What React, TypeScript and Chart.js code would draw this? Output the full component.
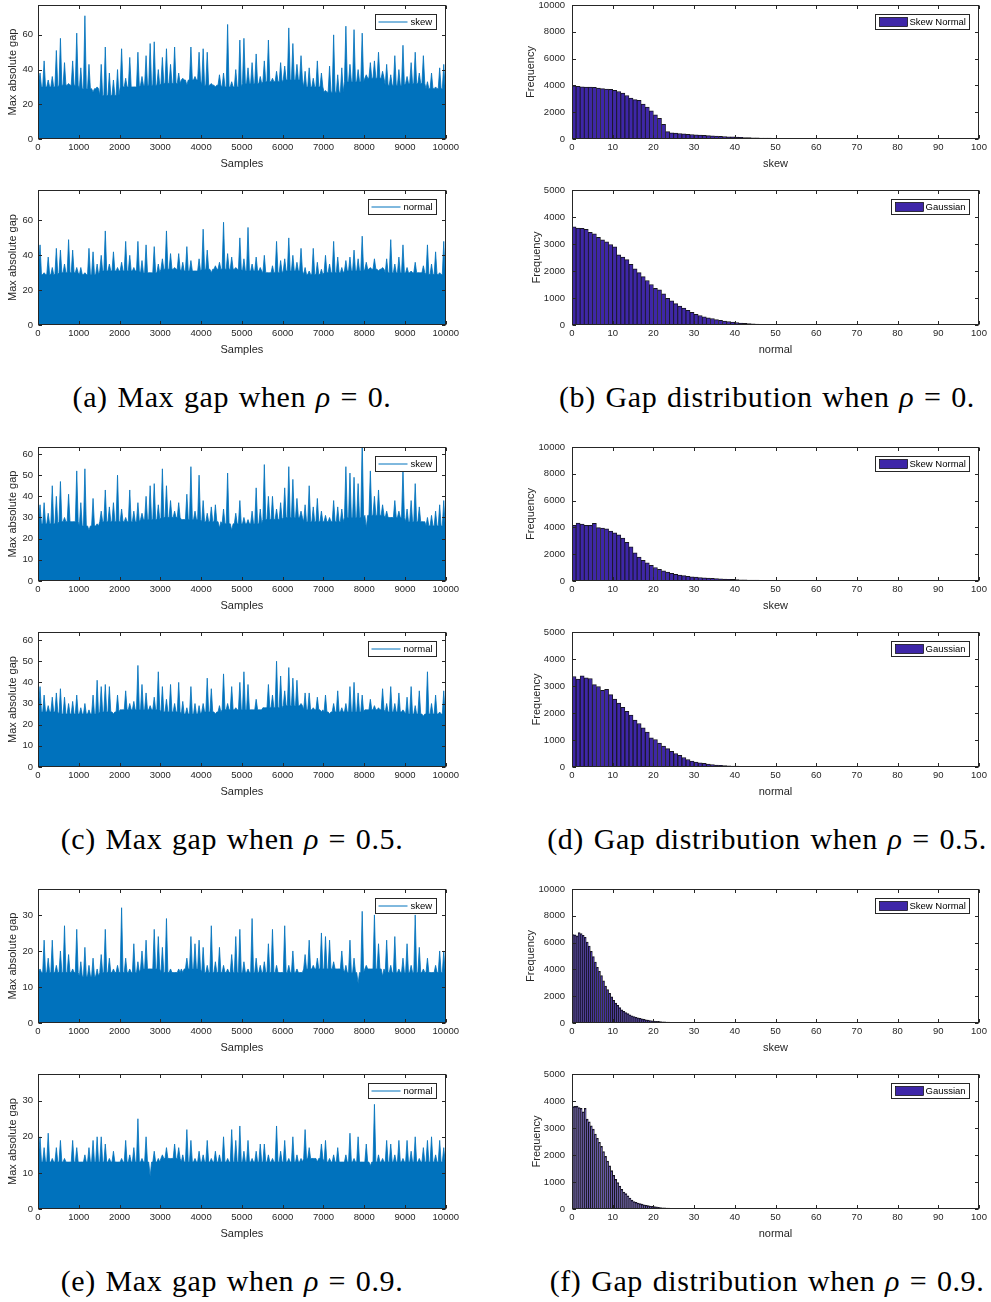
import React, { useEffect, useRef } from "react";
import { Chart, registerables } from "chart.js";

Chart.register(...registerables);

const FONT = '"Liberation Sans", Arial, Helvetica, sans-serif';
const AXIS_COLOR = "#262626";
const LINE_BLUE = "#0072BD";
const PARULA_BLUE = "#3E26A8";
const EDGE_COLOR = "#17161f";

// ---------- tick labels ----------
const SAMPLE_TICKS = [0, 1000, 2000, 3000, 4000, 5000, 6000, 7000, 8000, 9000, 10000];
const HIST_X_TICKS = [0, 10, 20, 30, 40, 50, 60, 70, 80, 90, 100];
const GAP_TICKS_RHO0 = [0, 20, 40, 60];
const GAP_TICKS_RHO05 = [0, 10, 20, 30, 40, 50, 60];
const GAP_TICKS_RHO09 = [0, 10, 20, 30];
const FREQ_TICKS_SKEW = [0, 2000, 4000, 6000, 8000, 10000];
const FREQ_TICKS_NORMAL = [0, 1000, 2000, 3000, 4000, 5000];

// window of samples represented by each max-gap peak value
const SAMPLE_STEP = 100;

// ---------- max absolute gap: peak per 100-sample window ----------
const skewGapRho0 = [
  38, 45, 34, 36, 51, 58, 44, 32, 45, 61,
  41, 71, 43, 27, 30, 43, 53, 38, 34, 40,
  52, 35, 47, 30, 50, 36, 48, 55, 56, 40,
  47, 52, 43, 53, 38, 35, 31, 53, 36, 50,
  52, 50, 32, 30, 37, 38, 66, 33, 40, 57,
  58, 41, 44, 49, 36, 45, 57, 35, 39, 44,
  42, 64, 55, 43, 48, 39, 41, 35, 45, 38,
  28, 42, 60, 37, 41, 65, 43, 63, 40, 61,
  37, 44, 45, 50, 39, 43, 37, 48, 40, 54,
  36, 44, 50, 38, 48, 33, 38, 30, 41, 43,
];
const normalGapRho0 = [
  46, 30, 39, 33, 44, 43, 35, 49, 43, 33,
  33, 30, 44, 42, 35, 40, 54, 35, 42, 33,
  36, 48, 40, 33, 48, 37, 46, 30, 45, 35,
  38, 54, 41, 33, 41, 36, 45, 37, 31, 38,
  55, 43, 30, 34, 36, 59, 41, 39, 33, 50,
  38, 56, 35, 39, 33, 40, 30, 34, 48, 37,
  38, 50, 40, 36, 44, 33, 31, 44, 36, 32,
  40, 35, 48, 39, 33, 37, 39, 43, 38, 51,
  36, 33, 38, 31, 33, 38, 49, 35, 39, 46,
  33, 31, 36, 30, 34, 46, 35, 42, 30, 48,
];
const skewGapRho05 = [
  36, 37, 32, 45, 40, 47, 30, 41, 28, 52,
  37, 53, 24, 39, 27, 33, 43, 35, 37, 50,
  34, 30, 43, 33, 37, 32, 40, 45, 46, 36,
  53, 45, 38, 33, 37, 29, 41, 54, 33, 50,
  38, 32, 35, 36, 25, 34, 51, 24, 32, 38,
  30, 29, 33, 44, 34, 55, 40, 40, 34, 37,
  44, 54, 48, 39, 33, 36, 45, 35, 39, 33,
  31, 30, 38, 35, 34, 54, 51, 49, 46, 66,
  25, 52, 40, 43, 36, 33, 30, 38, 33, 53,
  34, 38, 46, 35, 28, 30, 31, 33, 36, 38,
];
const normalGapRho05 = [
  38, 34, 29, 33, 35, 37, 33, 30, 31, 34,
  28, 30, 27, 34, 41, 38, 39, 38, 25, 34,
  27, 36, 30, 31, 48, 39, 35, 29, 33, 45,
  38, 32, 39, 30, 40, 31, 28, 38, 30, 29,
  30, 42, 37, 25, 29, 44, 30, 38, 28, 40,
  45, 39, 27, 32, 27, 28, 39, 34, 50, 43,
  36, 47, 42, 41, 30, 35, 35, 28, 33, 26,
  34, 25, 30, 36, 28, 30, 38, 40, 35, 34,
  27, 32, 29, 28, 37, 30, 38, 30, 35, 27,
  33, 38, 29, 36, 24, 45, 30, 34, 26, 36,
];
const skewGapRho09 = [
  15, 23, 18, 23, 16, 20, 27, 19, 15, 26,
  17, 21, 16, 18, 15, 19, 26, 18, 15, 16,
  32, 18, 15, 22, 17, 20, 23, 15, 26, 24,
  21, 29, 15, 14, 15, 14, 18, 24, 22, 23,
  21, 16, 27, 17, 21, 16, 15, 19, 24, 26,
  17, 15, 29, 18, 16, 17, 22, 26, 16, 14,
  27, 16, 20, 15, 14, 19, 23, 16, 18, 25,
  24, 23, 17, 15, 20, 16, 23, 18, 11, 31,
  16, 15, 30, 22, 13, 23, 16, 24, 15, 18,
  22, 16, 30, 21, 15, 18, 14, 16, 20, 20,
];
const normalGapRho09 = [
  20, 17, 21, 14, 17, 19, 14, 13, 19, 17,
  13, 15, 17, 19, 20, 20, 18, 14, 16, 13,
  14, 19, 15, 17, 25, 14, 20, 9, 16, 14,
  15, 17, 14, 18, 17, 15, 22, 19, 14, 16,
  15, 19, 14, 16, 15, 20, 14, 22, 19, 23,
  16, 19, 14, 16, 18, 18, 15, 14, 23, 16,
  19, 14, 20, 15, 14, 22, 17, 14, 13, 18,
  19, 14, 15, 17, 13, 15, 21, 14, 20, 13,
  18, 12, 29, 15, 14, 19, 18, 15, 19, 14,
  19, 16, 20, 14, 17, 19, 20, 15, 19, 17,
];

// ---------- dense band level (top of solid region), per 500 samples ----------
const skewBandRho0 = [30, 31, 29, 25, 30, 31, 32, 34, 31, 30, 32, 33, 34, 30, 27, 33, 35, 31, 32, 29];
const normalBandRho0 = [29, 30, 29, 31, 31, 30, 32, 31, 32, 32, 31, 30, 31, 29, 30, 31, 32, 30, 30, 29];
const skewBandRho05 = [27, 28, 26, 28, 28, 29, 30, 29, 28, 27, 27, 29, 30, 28, 28, 30, 31, 30, 28, 26];
const normalBandRho05 = [26, 25, 25, 26, 27, 27, 26, 25, 26, 27, 27, 28, 29, 27, 26, 26, 27, 26, 25, 25];
const skewBandRho09 = [14, 14, 13, 14, 14, 15, 14, 15, 14, 14, 14, 14, 14, 15, 15, 14, 15, 14, 14, 14];
const normalBandRho09 = [13, 13, 13, 13, 13, 13, 14, 13, 13, 13, 13, 13, 13, 14, 13, 13, 13, 13, 13, 13];

// ---------- gap histograms (frequency per bin) ----------
const SKEW_BIN_RHO0 = 1;
const skewHistRho0 = [
  3970, 3940, 3900, 3880, 3870, 3850, 3800, 3760, 3730, 3700,
  3640, 3550, 3420, 3250, 3050, 2940, 2880, 2600, 2380, 2100,
  1800, 1550, 1100, 550, 470, 440, 410, 385, 360, 335,
  310, 290, 270, 250, 230, 215, 200, 185, 170, 155,
  140, 128, 116, 105, 95, 86, 78, 70, 63, 57,
  51, 46, 42, 38, 34, 31, 28, 25, 22, 20,
  18, 16, 14, 13, 12, 11, 10, 9, 8, 7,
  6, 6, 5, 4, 4, 3, 3,
];
const NORMAL_BIN_RHO0 = 1;
const normalHistRho0 = [
  3640, 3590, 3580, 3540, 3430, 3380, 3250, 3160, 3080, 2980,
  2900, 2600, 2520, 2420, 2250, 2080, 1940, 1790, 1650, 1500,
  1360, 1300, 1160, 990, 900, 790, 700, 630, 540, 470,
  400, 350, 300, 265, 240, 200, 170, 150, 130, 110,
  90, 75, 60, 50, 42, 36, 30, 26, 22, 19,
  16, 14, 12, 10, 9, 8, 7, 6, 5, 5,
  4, 4, 3, 3, 2,
];
const SKEW_BIN_RHO05 = 1;
const skewHistRho05 = [
  4150, 4330, 4250, 4160, 4150, 4300, 3980, 3950, 3900, 3720,
  3600, 3450, 3200, 2880, 2550, 2100, 1780, 1540, 1350, 1170,
  1010, 880, 760, 660, 570, 500, 450, 400, 360, 320,
  290, 265, 240, 220, 200, 180, 165, 150, 135, 122,
  110, 98, 88, 79, 71, 64, 57, 51, 46, 41,
  37, 33, 29, 26, 23, 21, 19, 17, 15, 13,
  12, 10, 9, 8, 7, 6, 5, 4, 3,
];
const NORMAL_BIN_RHO05 = 1;
const normalHistRho05 = [
  3350, 3260, 3380, 3300, 3280, 3050, 2980, 2840, 2880, 2680,
  2520, 2370, 2210, 2060, 1920, 1740, 1610, 1450, 1290, 1080,
  1020, 890, 780, 680, 580, 500, 430, 350, 280, 220,
  185, 160, 135, 110, 90, 75, 62, 52, 45, 38,
  32, 27, 23, 19, 16, 13, 11, 9, 7, 6,
  5, 4, 3,
];
const SKEW_BIN_RHO09 = 0.5;
const skewHistRho09 = [
  6600, 6580, 6500, 6750, 6680, 6550, 6400, 6050, 5750, 5350,
  4950, 4550, 4150, 3850, 3550, 3150, 2750, 2500, 2220, 1950,
  1700, 1480, 1320, 1150, 980, 880, 780, 700, 620, 540,
  480, 430, 390, 350, 310, 270, 240, 215, 190, 170,
  150, 135, 120, 105, 95, 85, 75, 67, 60, 53,
  47, 42, 38, 34, 30, 27, 24, 21, 19, 17,
  15, 14, 12, 11, 10, 9, 9, 8, 7, 7,
  6, 6, 5, 5, 5, 4, 4, 4, 3, 3,
  3, 3, 3, 2, 2, 2, 2, 2, 2, 2,
  2, 1, 1, 1, 1, 1,
];
const NORMAL_BIN_RHO09 = 0.5;
const normalHistRho09 = [
  3790, 3800, 3810, 3760, 3730, 3600, 3730, 3330, 3230, 3080,
  2960, 2780, 2620, 2470, 2320, 2130, 1950, 1780, 1600, 1420,
  1250, 1100, 980, 850, 730, 630, 570, 490, 410, 330,
  280, 250, 225, 200, 180, 160, 140, 125, 110, 98,
  88, 78, 65, 55, 48, 42, 36, 31, 27, 23,
  20, 17, 14, 12, 10, 8, 7, 6, 5, 4,
  3, 2,
];

// ---------- layout ----------
type PanelCfg = {
  kind: "ts" | "hist";
  left: number;
  top: number;
  width: number;
  height: number;
  values: number[];
  band?: number[];
  bin?: number;
  edge?: number;
  yMax: number;
  yTicks: number[];
  xTitle: string;
  yTitle: string;
  label: string;
  yTitleCenter: number;
};

const GROUP_OFFSETS = [0, 442, 884];
const ROW_A_TOP = 5;
const ROW_A_H = 134;
const ROW_B_TOP = 190;
const ROW_B_H = 135;
const LEFT_X = 38;
const LEFT_W = 408;
const RIGHT_X = 572;
const RIGHT_W = 407;

const tsPanel = (
  g: number,
  rowB: boolean,
  values: number[],
  band: number[],
  yMax: number,
  yTicks: number[],
  label: string
): PanelCfg => ({
  kind: "ts",
  left: LEFT_X,
  top: (rowB ? ROW_B_TOP : ROW_A_TOP) + GROUP_OFFSETS[g],
  width: LEFT_W,
  height: rowB ? ROW_B_H : ROW_A_H,
  values,
  band,
  yMax,
  yTicks,
  xTitle: "Samples",
  yTitle: "Max absolute gap",
  label,
  yTitleCenter: 13.3,
});

const histPanel = (g: number, rowB: boolean, values: number[], bin: number, edge: number, label: string): PanelCfg => ({
  kind: "hist",
  left: RIGHT_X,
  top: (rowB ? ROW_B_TOP : ROW_A_TOP) + GROUP_OFFSETS[g],
  width: RIGHT_W,
  height: rowB ? ROW_B_H : ROW_A_H,
  values,
  bin,
  edge,
  yMax: rowB ? 5000 : 10000,
  yTicks: rowB ? FREQ_TICKS_NORMAL : FREQ_TICKS_SKEW,
  xTitle: rowB ? "normal" : "skew",
  yTitle: "Frequency",
  label,
  yTitleCenter: rowB ? 25 : 19,
});

const PANELS: PanelCfg[] = [
  tsPanel(0, false, skewGapRho0, skewBandRho0, 77.2, GAP_TICKS_RHO0, "skew"),
  tsPanel(0, true, normalGapRho0, normalBandRho0, 77.5, GAP_TICKS_RHO0, "normal"),
  tsPanel(1, false, skewGapRho05, skewBandRho05, 63.3, GAP_TICKS_RHO05, "skew"),
  tsPanel(1, true, normalGapRho05, normalBandRho05, 63.8, GAP_TICKS_RHO05, "normal"),
  tsPanel(2, false, skewGapRho09, skewBandRho09, 37.2, GAP_TICKS_RHO09, "skew"),
  tsPanel(2, true, normalGapRho09, normalBandRho09, 37.4, GAP_TICKS_RHO09, "normal"),
  histPanel(0, false, skewHistRho0, SKEW_BIN_RHO0, 0.8, "Skew Normal"),
  histPanel(0, true, normalHistRho0, NORMAL_BIN_RHO0, 0.8, "Gaussian"),
  histPanel(1, false, skewHistRho05, SKEW_BIN_RHO05, 0.8, "Skew Normal"),
  histPanel(1, true, normalHistRho05, NORMAL_BIN_RHO05, 0.9, "Gaussian"),
  histPanel(2, false, skewHistRho09, SKEW_BIN_RHO09, 0.9, "Skew Normal"),
  histPanel(2, true, normalHistRho09, NORMAL_BIN_RHO09, 1.3, "Gaussian"),
];

const CAPTIONS = [
  { letter: "(a)", text: "Max gap when", rho: "0", x: 232 },
  { letter: "(b)", text: "Gap distribution when", rho: "0", x: 767 },
  { letter: "(c)", text: "Max gap when", rho: "0.5", x: 232 },
  { letter: "(d)", text: "Gap distribution when", rho: "0.5", x: 767 },
  { letter: "(e)", text: "Max gap when", rho: "0.9", x: 232 },
  { letter: "(f)", text: "Gap distribution when", rho: "0.9", x: 767 },
];
const CAPTION_Y = [397, 839, 1281];

// ---------- plugins ----------
const TICK_LEN = 3.5;

const matlabBox = {
  id: "matlabBox",
  afterDatasetsDraw(chart: any) {
    const { ctx, chartArea: a, scales } = chart;
    const L = Math.round(a.left) + 0.5;
    const R = Math.round(a.right) - 0.5;
    const T = Math.round(a.top) + 0.5;
    const B = Math.round(a.bottom) - 0.5;
    ctx.save();
    ctx.strokeStyle = AXIS_COLOR;
    ctx.lineWidth = 1;
    ctx.beginPath();
    scales.x.ticks.forEach((t: any) => {
      const px = Math.round(scales.x.getPixelForValue(t.value)) + 0.5;
      ctx.moveTo(px, B);
      ctx.lineTo(px, B - TICK_LEN);
      ctx.moveTo(px, T);
      ctx.lineTo(px, T + TICK_LEN);
    });
    scales.y.ticks.forEach((t: any) => {
      const py = Math.round(scales.y.getPixelForValue(t.value)) + 0.5;
      ctx.moveTo(L, py);
      ctx.lineTo(L + TICK_LEN, py);
      ctx.moveTo(R, py);
      ctx.lineTo(R - TICK_LEN, py);
    });
    ctx.stroke();
    ctx.strokeRect(L, T, R - L, B - T);
    ctx.restore();
  },
};

const matlabLegend = {
  id: "matlabLegend",
  afterDraw(chart: any) {
    const { ctx, chartArea: a } = chart;
    const ds = chart.data.datasets[0];
    const isBar = chart.config.type === "bar";
    ctx.save();
    ctx.font = `9.5px ${FONT}`;
    const tw = ctx.measureText(ds.label).width;
    const sym = isBar ? 28 : 29;
    const padL = isBar ? 4 : 3;
    const gap = isBar ? 2 : 3;
    const boxW = Math.round(padL + sym + gap + tw + 4);
    const boxH = 15;
    const x1 = Math.round(a.right - 10 - boxW) + 0.5;
    const y1 = Math.round(a.top + 9) + 0.5;
    ctx.fillStyle = "#ffffff";
    ctx.fillRect(x1, y1, boxW, boxH);
    ctx.strokeStyle = AXIS_COLOR;
    ctx.lineWidth = 1;
    ctx.strokeRect(x1, y1, boxW, boxH);
    const sx = x1 + padL;
    if (isBar) {
      ctx.fillStyle = PARULA_BLUE;
      ctx.fillRect(sx, y1 + 3, sym, boxH - 6);
      ctx.lineWidth = 0.7;
      ctx.strokeStyle = "#000";
      ctx.strokeRect(sx, y1 + 3, sym, boxH - 6);
    } else {
      ctx.strokeStyle = LINE_BLUE;
      ctx.lineWidth = 1;
      ctx.beginPath();
      ctx.moveTo(sx, y1 + boxH / 2);
      ctx.lineTo(sx + sym, y1 + boxH / 2);
      ctx.stroke();
    }
    ctx.fillStyle = "#000";
    ctx.textBaseline = "middle";
    ctx.textAlign = "left";
    ctx.fillText(ds.label, sx + sym + gap, y1 + boxH / 2 + 0.5);
    ctx.restore();
  },
};

// ---------- panel ----------
const PAD_TOP = 14;
const X_AXIS_H = 32;

function gapPoints(peaks: number[], band: number[]) {
  const pts: { x: number; y: number }[] = [{ x: 0, y: band[0] }];
  peaks.forEach((p, i) => {
    const b = band[Math.floor((i * band.length) / peaks.length)];
    const x0 = i * SAMPLE_STEP;
    pts.push({ x: x0 + 15, y: b }, { x: x0 + 50, y: p }, { x: x0 + 85, y: b });
  });
  pts.push({ x: peaks.length * SAMPLE_STEP, y: band[band.length - 1] });
  return pts;
}

function Panel({ cfg }: { cfg: PanelCfg }) {
  const ref = useRef<HTMLCanvasElement | null>(null);
  const isTs = cfg.kind === "ts";
  const yW = isTs ? 38 : 60;
  const padRight = isTs ? 16 : 12;
  const cw = yW + cfg.width + padRight;
  const ch = PAD_TOP + cfg.height + X_AXIS_H;

  useEffect(() => {
    if (!ref.current) return;
    const tickFont = { family: FONT, size: 9.5 };
    const titleFont = { family: FONT, size: 11 };
    const xTicks = isTs ? SAMPLE_TICKS : HIST_X_TICKS;

    const dataset: any = isTs
      ? {
          label: cfg.label,
          data: gapPoints(cfg.values, cfg.band as number[]),
          borderColor: LINE_BLUE,
          backgroundColor: LINE_BLUE,
          borderWidth: 0.8,
          pointRadius: 0,
          fill: "origin",
          tension: 0,
        }
      : {
          label: cfg.label,
          data: cfg.values.map((v, i) => ({ x: (i + 0.5) * (cfg.bin as number), y: v })),
          backgroundColor: PARULA_BLUE,
          borderColor: EDGE_COLOR,
          borderWidth: { top: 1, left: cfg.edge, right: cfg.edge, bottom: 0 },
          barPercentage: 1,
          categoryPercentage: 1,
          inflateAmount: 0.3,
        };

    const chart = new Chart(ref.current, {
      type: isTs ? "line" : "bar",
      data: { datasets: [dataset] },
      options: {
        animation: false,
        responsive: false,
        devicePixelRatio: 1,
        layout: { padding: { top: PAD_TOP, right: padRight, left: 0, bottom: 0 } },
        plugins: { legend: { display: false }, tooltip: { enabled: false } },
        scales: {
          x: {
            type: "linear",
            min: 0,
            max: isTs ? 10000 : 100,
            offset: false,
            afterBuildTicks: (s: any) => {
              s.ticks = xTicks.map((v) => ({ value: v }));
            },
            afterFit: (s: any) => {
              s.height = X_AXIS_H;
            },
            grid: { display: false, drawTicks: false },
            border: { display: false },
            ticks: {
              font: tickFont,
              color: AXIS_COLOR,
              padding: 3,
              maxRotation: 0,
              autoSkip: false,
              callback: (v: any) => String(v),
            },
            title: {
              display: true,
              text: cfg.xTitle,
              font: titleFont,
              color: AXIS_COLOR,
              padding: { top: 0, bottom: 0 },
            },
          },
          y: {
            type: "linear",
            min: 0,
            max: cfg.yMax,
            afterBuildTicks: (s: any) => {
              s.ticks = cfg.yTicks.map((v) => ({ value: v }));
            },
            afterFit: (s: any) => {
              s.width = yW;
            },
            grid: { display: false, drawTicks: false },
            border: { display: false },
            ticks: {
              font: tickFont,
              color: AXIS_COLOR,
              padding: isTs ? 5 : 7,
              autoSkip: false,
              callback: (v: any) => String(v),
            },
            title: {
              display: true,
              text: cfg.yTitle,
              font: titleFont,
              color: AXIS_COLOR,
              padding: { top: cfg.yTitleCenter - 6.6, bottom: 0 },
            },
          },
        },
      } as any,
      plugins: [matlabBox, matlabLegend],
    });
    return () => chart.destroy();
  }, [cfg]);

  return (
    <canvas
      ref={ref}
      width={cw}
      height={ch}
      style={{
        position: "absolute",
        left: cfg.left - yW,
        top: cfg.top - PAD_TOP,
        width: cw,
        height: ch,
      }}
    />
  );
}

export default function App() {
  return (
    <div
      style={{
        position: "absolute",
        left: 0,
        top: 0,
        width: 991,
        height: 1302,
        background: "#ffffff",
        overflow: "hidden",
      }}
    >
      {PANELS.map((p, i) => (
        <Panel key={i} cfg={p} />
      ))}
      {CAPTIONS.map((c, i) => (
        <div
          key={`cap${i}`}
          style={{
            position: "absolute",
            left: c.x - 260,
            width: 520,
            top: CAPTION_Y[Math.floor(i / 2)] - 18,
            height: 36,
            lineHeight: "36px",
            textAlign: "center",
            fontFamily: '"Liberation Serif", "Times New Roman", serif',
            fontSize: 30,
            letterSpacing: "0.6px",
            wordSpacing: "1.6px",
            color: "#000",
            whiteSpace: "nowrap",
          }}
        >
          {c.letter} {c.text} <i>ρ</i> = {c.rho}.
        </div>
      ))}
    </div>
  );
}
